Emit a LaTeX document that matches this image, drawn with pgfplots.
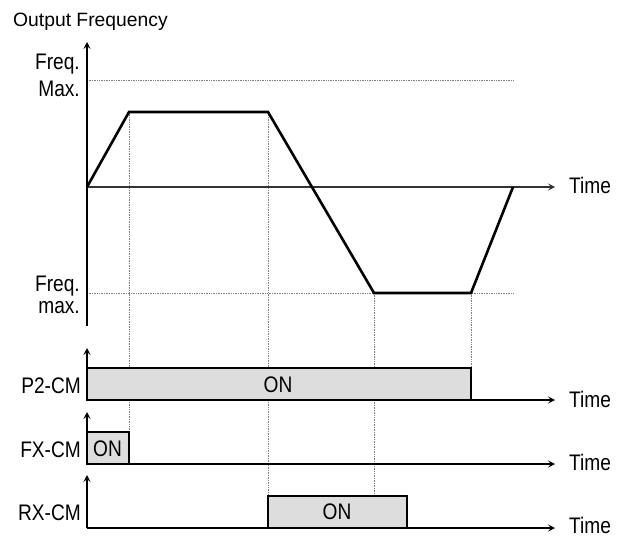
\documentclass[border=0pt]{standalone}
\usepackage{pgfplots}
\pgfplotsset{compat=1.18}
\usepackage{fontspec}
\setmainfont{Liberation Sans}
\newfontfamily\cond[FakeStretch=0.85]{Liberation Sans}
\usetikzlibrary{arrows.meta}
\definecolor{barfill}{HTML}{DDDDDD}
\definecolor{dotgray}{HTML}{808080}
\begin{document}
\begin{tikzpicture}[
  lab/.style={font=\cond\fontsize{22.5bp}{26bp}\selectfont, inner sep=0pt},
  arr/.style={-{Stealth[length=7bp,width=7bp,inset=3bp]}}
]
\begin{axis}[
  hide axis, scale only axis, width=627bp, height=537bp,
  xmin=0, xmax=627, ymin=0, ymax=537, y dir=reverse, clip=false]
\path (axis cs:0,0) rectangle (axis cs:627,537);
% dotted guide lines
\addplot[dotgray, densely dotted, line width=0.7bp] coordinates {(87,80) (514,80)};
\addplot[dotgray, densely dotted, line width=0.7bp] coordinates {(87,293) (514,293)};
\addplot[dotgray, densely dotted, line width=0.7bp] coordinates {(129,112) (129,432)};
\addplot[dotgray, densely dotted, line width=0.7bp] coordinates {(268,112) (268,496)};
\addplot[dotgray, densely dotted, line width=0.7bp] coordinates {(374,293) (374,496)};
\addplot[dotgray, densely dotted, line width=0.7bp] coordinates {(471,293) (471,368)};
% main axes
\addplot[black, line width=1.3bp, arr] coordinates {(87,326) (87,42)};
\addplot[black!80, line width=1.4bp, arr] coordinates {(87,187) (555,187)};
% frequency profile
\addplot[black, line width=2.6bp, line join=miter] coordinates {(87,187) (129,112) (268,112) (374,293) (471,293) (513,187)};
% signal bars
\addplot[black, line width=1.2bp, fill=barfill] coordinates {(87,400) (87,368) (471,368) (471,400)} -- cycle;
\addplot[black, line width=1.2bp, fill=barfill] coordinates {(87,464) (87,432) (129,432) (129,464)} -- cycle;
\addplot[black, line width=1.2bp, fill=barfill] coordinates {(268,528) (268,496) (407,496) (407,528)} -- cycle;
% signal axes
\addplot[black, line width=1.2bp, arr] coordinates {(87,400) (87,348)};
\addplot[black, line width=1.2bp, arr] coordinates {(87,400) (555,400)};
\addplot[black, line width=1.2bp, arr] coordinates {(87,464) (87,412)};
\addplot[black, line width=1.2bp, arr] coordinates {(87,464) (555,464)};
\addplot[black, line width=1.2bp, arr] coordinates {(87,528) (87,475)};
\addplot[black, line width=1.2bp, arr] coordinates {(87,528) (555,528)};
% texts
\node[anchor=base west, inner sep=0pt, font=\fontsize{19.3bp}{23bp}\selectfont] at (axis cs:13,26.7) {Output Frequency};
\node[lab, anchor=base east] at (axis cs:80,70) {Freq.};
\node[lab, anchor=base east] at (axis cs:80,96.7) {Max.};
\node[lab, anchor=base east] at (axis cs:80,291) {Freq.};
\node[lab, anchor=base east] at (axis cs:80,313.3) {max.};
\node[lab, anchor=base east] at (axis cs:81,393.3) {P2-CM};
\node[lab, anchor=base east] at (axis cs:81,457.3) {FX-CM};
\node[lab, anchor=base east] at (axis cs:81,520.7) {RX-CM};
\node[lab, anchor=base west] at (axis cs:569,193.3) {Time};
\node[lab, anchor=base west] at (axis cs:569,407.3) {Time};
\node[lab, anchor=base west] at (axis cs:569,470) {Time};
\node[lab, anchor=base west] at (axis cs:569,533) {Time};
\node[lab, anchor=base] at (axis cs:278,392.3) {ON};
\node[lab, anchor=base] at (axis cs:107.5,456.7) {ON};
\node[lab, anchor=base] at (axis cs:337,519.3) {ON};
\end{axis}
\end{tikzpicture}
\end{document}
